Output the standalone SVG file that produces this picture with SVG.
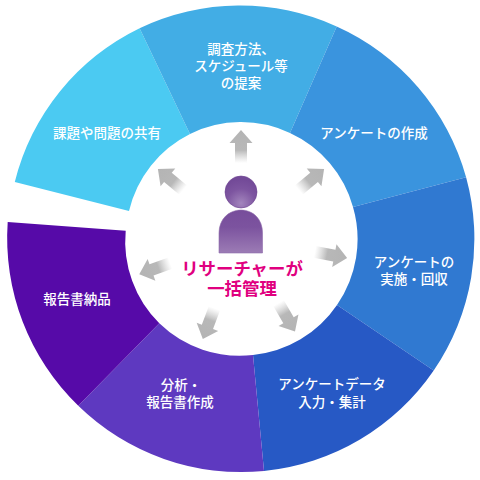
<svg xmlns="http://www.w3.org/2000/svg" width="480" height="480" viewBox="0 0 480 480">
<style>
.l{font-family:"Noto Sans CJK JP","Noto Sans",sans-serif;font-size:13.500px;font-weight:500;fill:#fff;text-anchor:middle}
.c{font-family:"Noto Sans CJK JP","Noto Sans",sans-serif;font-size:17.400px;font-weight:700;fill:#e0007f;text-anchor:middle}
</style>
<defs>
<linearGradient id="ag" gradientUnits="userSpaceOnUse" x1="0" y1="131" x2="0" y2="163"><stop offset="0" stop-color="#b4b4b4"/><stop offset=".6" stop-color="#b8b8b8"/><stop offset="1" stop-color="#c8c8c8" stop-opacity="0"/></linearGradient>
<path id="arrow" d="M241 130L252.500 143H247V163H235V143H229.500Z" fill="url(#ag)"/>
<radialGradient id="hg" cx=".5" cy=".85" r=".75"><stop offset="0" stop-color="#a385bd"/><stop offset=".6" stop-color="#7d55a0"/><stop offset="1" stop-color="#734a98"/></radialGradient>
<linearGradient id="bg" x1="0" y1="0" x2="0" y2="1"><stop offset="0" stop-color="#774d9b"/><stop offset=".4" stop-color="#7c539f"/><stop offset="1" stop-color="#9c7cb5"/></linearGradient>
</defs>
<rect width="480" height="480" fill="#fff"/>
<g id="seg1"><path d="M14.800 182A233.400 233.400 0 0 1 139.600 28.200L190 134A115.500 115.500 0 0 0 129 211Z" fill="#4bcaf2"/><text class="l" x="107" y="138">課題や問題の共有</text></g>
<g id="seg2"><path d="M139.600 28.200A233.400 233.400 0 0 1 336.700 26.500L290 133A115.500 115.500 0 0 0 190 134Z" fill="#42ade5"/><text class="l"><tspan x="241" y="54">調査方法、</tspan><tspan x="241" y="71">スケジュール等</tspan><tspan x="241" y="88">の提案</tspan></text></g>
<g id="seg3"><path d="M336.700 26.500A233.400 233.400 0 0 1 466.100 177.200L353 207A115.500 115.500 0 0 0 290 133Z" fill="#3a94de"/><text class="l" x="374" y="138">アンケートの作成</text></g>
<g id="seg4"><path d="M466.100 177.200A233.400 233.400 0 0 1 433.700 370.500L337 305A115.500 115.500 0 0 0 353 207Z" fill="#3079d1"/><text class="l"><tspan x="414" y="267">アンケートの</tspan><tspan x="414" y="284">実施・回収</tspan></text></g>
<g id="seg5"><path d="M433.700 370.500A233.400 233.400 0 0 1 264 471L253 355A115.500 115.500 0 0 0 337 305Z" fill="#2759c5"/><text class="l"><tspan x="332" y="389">アンケートデータ</tspan><tspan x="332" y="407">入力・集計</tspan></text></g>
<g id="seg6"><path d="M264 471A233.400 233.400 0 0 1 78.300 405.700L159.300 323.300A115.500 115.500 0 0 0 253 355Z" fill="#5e39c0"/><text class="l"><tspan x="181" y="390">分析・</tspan><tspan x="180" y="407">報告書作成</tspan></text></g>
<g id="seg7"><path d="M78.300 405.700A233.400 233.400 0 0 1 7.700 222L125.700 230.700A115.500 115.500 0 0 0 159.300 323.300Z" fill="#560aa8"/><text class="l" x="77" y="304">報告書納品</text></g>
<g id="connectors">
<use href="#arrow"/>
<use href="#arrow" transform="rotate(50.300 241 238)"/>
<use href="#arrow" transform="rotate(100.700 241 238)"/>
<use href="#arrow" transform="rotate(150 241 238)"/>
<use href="#arrow" transform="rotate(200.700 241 238)"/>
<use href="#arrow" transform="rotate(250.400 241 238)"/>
<use href="#arrow" transform="rotate(-50.300 241 238)"/>
</g>
<g id="center">
<circle cx="241" cy="192" r="16" fill="url(#hg)" stroke="#6d4391" stroke-width=".6"/>
<path d="M219 253V233C219 219 229 210 241 210C253 210 262.500 219 262.500 233V253Z" fill="url(#bg)" stroke="#8e6bab" stroke-width=".6"/>
<text class="c"><tspan x="242" y="275">リサーチャーが</tspan><tspan x="242" y="295">一括管理</tspan></text>
</g>
</svg>
